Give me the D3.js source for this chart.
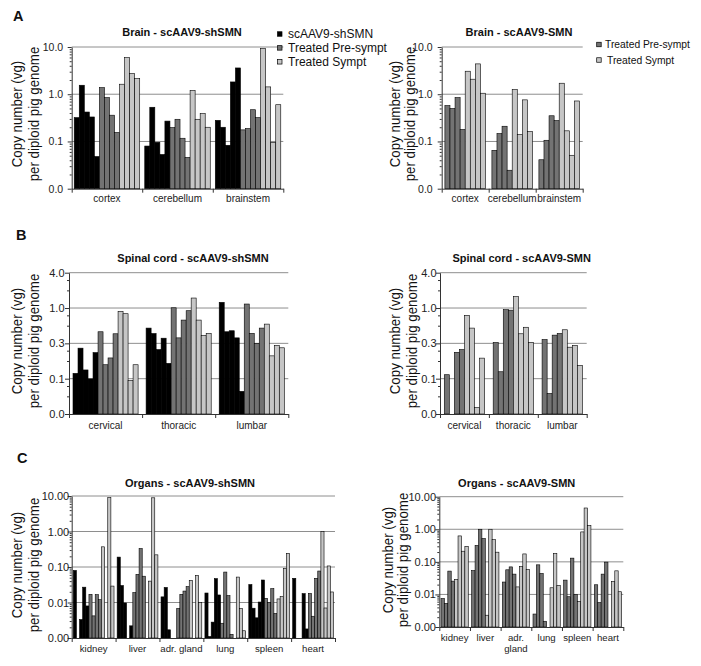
<!DOCTYPE html>
<html><head><meta charset="utf-8">
<script src="https://cdn.jsdelivr.net/npm/d3@7"></script>
<style>body{margin:0;background:#fff}svg{display:block}text{font-family:"Liberation Sans",Arial,sans-serif}</style>
</head><body><svg id="chart" width="701" height="666"></svg>
<script>
// ---------------- DATA ----------------
const brainCategories = ["cortex", "cerebellum", "brainstem"];
const spinalCategories = ["cervical", "thoracic", "lumbar"];
const organCategoriesSh = ["kidney", "liver", "adr. gland", "lung", "spleen", "heart"];
const organCategoriesSmn = ["kidney", "liver", "adr.\ngland", "lung", "spleen", "heart"];
const seriesNames = ["scAAV9-shSMN", "Treated Pre-sympt", "Treated Sympt"];

const brainTickValues = [0.01, 0.1, 1, 10];
const brainTickLabels = ["0.0", "0.1", "1.0", "10.0"];
const spinalTickValues = [1 / 64, 1 / 16, 1 / 4, 1, 4];
const spinalTickLabels = ["0.0", "0.1", "0.3", "1.0", "4.0"];
const organTickValues = [0.001, 0.01, 0.1, 1, 10];
const organTickLabels = ["0.00", "0.01", "0.10", "1.00", "10.00"];

// Brain - scAAV9-shSMN (one inner array per region, one value per animal)
const brainShVector = [[0.32, 1.55, 0.42, 0.33, 0.048], [0.08, 0.53, 0.096, 0.053, 0.27], [0.28, 0.2, 0.083, 1.82, 3.6]];
const brainShPre = [[1.38, 0.85, 0.36, 0.155], [0.197, 0.295, 0.117, 0.046], [0.176, 0.188, 0.47, 0.32]];
const brainShSympt = [[1.63, 5.97, 2.74, 2.15], [1.2, 0.295, 0.39, 0.2], [9.3, 1.43, 0.096, 0.6]];
// Brain - scAAV9-SMN
const brainSmnPre = [[0.575, 0.5, 0.85, 0.18], [0.065, 0.147, 0.21, 0.0246], [0.041, 0.106, 0.35, 0.277]];
const brainSmnSympt = [[3.07, 2.08, 4.39, 1.05], [1.25, 0.14, 0.76, 0.162], [1.71, 0.168, 0.051, 0.72]];
// Spinal cord - scAAV9-shSMN
const spinalShVector = [[0.077, 0.207, 0.088, 0.062, 0.174], [0.455, 0.368, 0.196, 0.306, 0.114], [1.25, 0.394, 0.41, 0.31, 0.038]];
const spinalShPre = [[0.394, 0.108, 0.141, 0.364], [1.01, 0.31, 0.623, 0.9], [1.17, 0.37, 0.25, 0.455]];
const spinalShSympt = [[0.877, 0.8, 0.058, 0.108], [1.48, 0.623, 0.34, 0.368], [0.532, 0.153, 0.23, 0.21]];
// Spinal cord - scAAV9-SMN
const spinalSmnPre = [[0.073, null, 0.176, 0.196], [0.258, 0.082, 0.937, 0.92], [0.29, 0.035, 0.345, 0.368]];
const spinalSmnSympt = [[0.75, 0.455, 0.0201, 0.14], [1.56, 0.364, 0.47, 0.26], [0.426, 0.215, 0.23, 0.105]];
// Organs - scAAV9-shSMN
const organShVector = [[0.08, null, 0.0033, 0.027, 0.008], [0.19, 0.03, 0.0097, null, 0.0022], [0.0144, 0.0265, 0.0017, null, null],
  [0.0185, 0.0011, 0.0028, 0.047, 0.0163], [0.032, 0.0069, 0.0037, 0.0103, 0.043], [0.048, null, null, 0.0178, 0.0018]];
const organShPre = [[0.017, 0.0042, 0.0166, 0.012], [0.019, 0.062, 0.33, 0.055], [0.0068, 0.017, 0.021, 0.028],
  [0.0026, 0.072, 0.0156, 0.00127], [0.0131, 0.0099, 0.0245, 0.0049], [0.018, 0.0041, 0.048, 0.077]];
const organShSympt = [[0.37, null, 9.0, 0.029], [null, 0.04, 8.9, 0.22], [0.042, null, 0.058, 0.01],
  [null, 0.052, 0.0067, 0.0016], [0.0126, 0.0146, 0.092, 0.243], [1.0, 0.007, 0.107, 0.0198]];
// Organs - scAAV9-SMN
const organSmnPre = [[0.0075, 0.0053, 0.052, 0.0256], [0.054, 0.32, 1.0, 0.52], [0.024, 0.057, 0.07, 0.042],
  [0.0025, 0.081, 0.044, 0.0015], [0.0275, 0.0085, 0.13, 0.01], [0.0198, 0.0056, 0.042, 0.098]];
const organSmnSympt = [[0.0288, 0.625, 0.212, 0.3], [0.0023, 1.0, 0.48, 0.198], [0.017, 0.072, 0.175, 0.058],
  [null, 0.016, 0.18, 0.019], [0.0061, 0.83, 4.5, 1.3], [null, 0.025, 0.053, 0.0121]];

// ---------------- STYLE / LAYOUT ----------------
const seriesColors = ["#000000", "#737373", "#c6c6c6"];
const svg = d3.select("#chart");

function minorTicks(majors, base) {
  const out = [];
  const mult = base === 10 ? [2, 3, 4, 5, 6, 7, 8, 9] : [2, 3];
  for (let i = 0; i < majors.length - 1; i++) mult.forEach(m => out.push(majors[i] * m));
  return out;
}

function drawPanel(cfg) {
  const g = svg.append("g");
  const n = cfg.cats.length;
  const x = d3.scaleBand().domain(cfg.cats).range([cfg.left, cfg.right]);
  const y = d3.scaleLog().base(cfg.base)
    .domain([cfg.ticks[0], cfg.ticks[cfg.ticks.length - 1]])
    .range([cfg.bottom, cfg.top]);

  // title
  g.append("text").attr("x", cfg.titleX).attr("y", cfg.titleY)
    .attr("text-anchor", "middle").attr("font-size", 11).attr("font-weight", "bold")
    .attr("fill", "#111").text(cfg.title);

  // gridlines
  g.selectAll("line.grid").data(cfg.ticks.slice(1)).join("line").attr("class", "grid")
    .attr("x1", cfg.left).attr("x2", cfg.right)
    .attr("y1", d => y(d)).attr("y2", d => y(d))
    .attr("stroke", "#8e8e8e").attr("stroke-width", 1);

  // bars
  cfg.cats.forEach((c, i) => {
    const bars = [];
    cfg.series.forEach((s, si) => s[i].forEach(v => bars.push({ v, si, idx: bars.length })));
    const xi = d3.scaleBand().domain(d3.range(bars.length))
      .range([x(c), x(c) + x.bandwidth()]).paddingInner(0).paddingOuter(cfg.pad);
    g.selectAll(null).data(bars.filter(b => b.v != null)).join("rect")
      .attr("x", b => xi(b.idx)).attr("width", xi.bandwidth())
      .attr("y", b => y(b.v)).attr("height", b => cfg.bottom - y(b.v))
      .attr("fill", b => seriesColors[cfg.colorIdx[b.si]])
      .attr("stroke", "#000").attr("stroke-width", 0.6);
  });

  // y axis (major)
  const ya = g.append("g").attr("transform", `translate(${cfg.left},0)`)
    .call(d3.axisLeft(y).tickValues(cfg.ticks).tickFormat((d, i) => cfg.labels[i])
      .tickSize(4).tickSizeOuter(0).tickPadding(cfg.labelGap - 4));
  ya.select(".domain").attr("stroke", "#333");
  ya.selectAll(".tick line").attr("stroke", "#333");
  ya.selectAll("text").attr("font-size", cfg.tickFont).attr("fill", "#222")
    .attr("font-family", '"Liberation Sans",Arial,sans-serif');
  // y axis (minor)
  const ym = g.append("g").attr("transform", `translate(${cfg.left},0)`)
    .call(d3.axisLeft(y).tickValues(minorTicks(cfg.ticks, cfg.base)).tickFormat("").tickSize(2).tickSizeOuter(0));
  ym.select(".domain").remove();
  ym.selectAll(".tick line").attr("stroke", "#333");

  // x axis line + boundary ticks
  const xb = d3.scaleLinear().domain([0, n]).range([cfg.left, cfg.right]);
  const xa = g.append("g").attr("transform", `translate(0,${cfg.bottom})`)
    .call(d3.axisBottom(xb).tickValues(d3.range(n + 1)).tickFormat("").tickSize(4).tickSizeOuter(0));
  xa.select(".domain").attr("stroke", "#333");
  xa.selectAll(".tick line").attr("stroke", "#333");
  // category labels
  const xl = g.append("g").attr("transform", `translate(0,${cfg.bottom})`)
    .call(d3.axisBottom(x).tickSize(0).tickPadding(0).tickFormat(""));
  xl.select(".domain").remove();
  xl.selectAll(".tick").each(function (d) {
    const t = d3.select(this).append("text").attr("fill", "#222")
      .attr("font-size", cfg.catFont).attr("text-anchor", "middle")
      .attr("font-family", '"Liberation Sans",Arial,sans-serif');
    d.split("\n").forEach((line, k) => {
      t.append("tspan").attr("x", 0).attr("y", cfg.catDy + k * 11).text(line);
    });
  });

  // y axis title (glyphs taller than their advance, as in the reference)
  const cy = cfg.titleCy;
  cfg.ytitleX.forEach((bx, k) => {
    g.append("text").attr("transform", `translate(${bx},${cy}) rotate(-90) scale(0.86,1)`)
      .attr("text-anchor", "middle").attr("font-size", 15.5).attr("fill", "#111")
      .text(k === 0 ? "Copy number (vg)" : "per diploid pig genome");
  });

  // legend
  if (cfg.legend) {
    const L = cfg.legend;
    L.items.forEach((si, k) => {
      const cyL = L.y + k * L.dy;
      g.append("rect").attr("x", L.x).attr("y", cyL - L.size / 2).attr("width", L.size).attr("height", L.size)
        .attr("fill", seriesColors[si]).attr("stroke", "#000").attr("stroke-width", 0.7);
      g.append("text").attr("x", L.tx + (L.indent ? L.indent[k] : 0)).attr("y", cyL + L.font * 0.36)
        .attr("font-size", L.font).attr("fill", "#111").text(seriesNames[si]);
    });
  }
}

// panel letters
[["A", 13, 21], ["B", 16, 240], ["C", 17, 463]].forEach(([t, x, y]) => {
  svg.append("text").attr("x", x).attr("y", y).attr("font-size", 14.5).attr("font-weight", "bold")
    .attr("fill", "#111").text(t);
});

drawPanel({
  title: "Brain - scAAV9-shSMN", titleX: 182, titleY: 36,
  cats: brainCategories, series: [brainShVector, brainShPre, brainShSympt], colorIdx: [0, 1, 2],
  left: 71.7, right: 283.3, top: 47, bottom: 188.7, base: 10,
  ticks: brainTickValues, labels: brainTickLabels, labelGap: 8.5, tickFont: 10.5,
  pad: 0.5, catFont: 10, catDy: 13.6, ytitleX: [22, 39], titleCy: 114,
  legend: { items: [0, 1, 2], x: 277.5, y: 34, dy: 13.9, size: 4.5, tx: 288, font: 12 }
});
drawPanel({
  title: "Brain - scAAV9-SMN", titleX: 519, titleY: 36,
  cats: brainCategories, series: [brainSmnPre, brainSmnSympt], colorIdx: [1, 2],
  left: 441.7, right: 582.7, top: 47, bottom: 188.7, base: 10,
  ticks: brainTickValues, labels: brainTickLabels, labelGap: 9, tickFont: 10.5,
  pad: 0.63, catFont: 10, catDy: 13.6, ytitleX: [399.5, 415], titleCy: 114,
  legend: { items: [1, 2], x: 596.7, y: 44.5, dy: 15.5, size: 4.5, tx: 605, font: 10.3, indent: [0, 2] }
});
drawPanel({
  title: "Spinal cord - scAAV9-shSMN", titleX: 193, titleY: 261.5,
  cats: spinalCategories, series: [spinalShVector, spinalShPre, spinalShSympt], colorIdx: [0, 1, 2],
  left: 69, right: 288.3, top: 272.7, bottom: 414, base: 4,
  ticks: spinalTickValues, labels: spinalTickLabels, labelGap: 4.5, tickFont: 11,
  pad: 0.8, catFont: 10, catDy: 14.8, ytitleX: [22, 39], titleCy: 341,
  legend: null
});
drawPanel({
  title: "Spinal cord - scAAV9-SMN", titleX: 521.7, titleY: 261.5,
  cats: spinalCategories, series: [spinalSmnPre, spinalSmnSympt], colorIdx: [1, 2],
  left: 440, right: 586.7, top: 272.7, bottom: 414, base: 4,
  ticks: spinalTickValues, labels: spinalTickLabels, labelGap: 3.5, tickFont: 11,
  pad: 0.85, catFont: 10, catDy: 14.8, ytitleX: [400, 417], titleCy: 341,
  legend: null
});
drawPanel({
  title: "Organs - scAAV9-shSMN", titleX: 190, titleY: 486.5,
  cats: organCategoriesSh, series: [organShVector, organShPre, organShSympt], colorIdx: [0, 1, 2],
  left: 71.7, right: 335, top: 496, bottom: 638, base: 10,
  ticks: organTickValues, labels: organTickLabels, labelGap: 2.5, tickFont: 11,
  pad: 0.5, catFont: 9.6, catDy: 13.5, ytitleX: [22, 39], titleCy: 565,
  legend: null
});
drawPanel({
  title: "Organs - scAAV9-SMN", titleX: 516.7, titleY: 486.5,
  cats: organCategoriesSmn, series: [organSmnPre, organSmnSympt], colorIdx: [1, 2],
  left: 439.3, right: 623.3, top: 496.7, bottom: 627, base: 10,
  ticks: organTickValues, labels: organTickLabels, labelGap: 3.3, tickFont: 11,
  pad: 0.5, catFont: 9.6, catDy: 14, ytitleX: [392.5, 408], titleCy: 560,
  legend: null
});
</script></body></html>
